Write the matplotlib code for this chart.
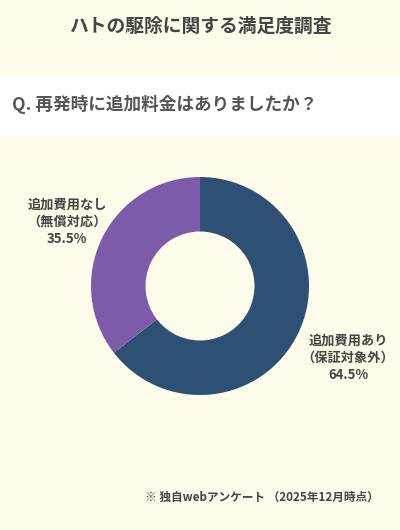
import matplotlib
matplotlib.use("Agg")
import matplotlib.pyplot as plt
from matplotlib.patches import Rectangle

plt.rcParams['font.family'] = ['Noto Sans CJK JP', 'DejaVu Sans']

# data
labels = ["追加費用あり\n（保証対象外）", "追加費用なし\n（無償対応）"]
values = [64.5, 35.5]
colors = ["#2d5074", "#7c5ba8"]

title = "ハトの駆除に関する満足度調査"
question = "Q. 再発時に追加料金はありましたか？"
footer = "※ 独自webアンケート （2025年12月時点）"

BG = "#fefbeb"
TXT = "#444444"

W, H = 400, 530
fig = plt.figure(figsize=(W / 100, H / 100), dpi=100)
fig.patch.set_facecolor(BG)

def fx(px):
    return px / W

def fy(py):
    return 1 - py / H

# white question band
fig.add_artist(Rectangle((0, fy(135)), 1, (135 - 76) / H,
                         transform=fig.transFigure, color="white", zorder=0))

fig.text(0.5, fy(26), title, ha="center", va="center",
         fontsize=13.5, fontweight="bold", color=TXT)
fig.text(fx(12), fy(104), question, ha="left", va="center",
         fontsize=12.7, fontweight="bold", color="#555555")

# donut
cx, cy, r = 200, 286, 109
ax = fig.add_axes([fx(cx - r), fy(cy + r), 2 * r / W, 2 * r / H])
ax.set_facecolor(BG)
ax.pie(values, colors=colors, startangle=90, counterclock=False,
       radius=1, wedgeprops=dict(width=0.5, edgecolor="none"))
ax.set_xlim(-1, 1)
ax.set_ylim(-1, 1)
ax.set_aspect("equal")
ax.axis("off")

# labels
fig.text(fx(348), fy(358), f"{labels[0]}\n{values[0]}%", ha="center", va="center",
         fontsize=9.5, fontweight="bold", color=TXT, linespacing=1.3)
fig.text(fx(67), fy(222), f"{labels[1]}\n{values[1]}%", ha="center", va="center",
         fontsize=9.5, fontweight="bold", color=TXT, linespacing=1.3)

fig.text(fx(145), fy(497), footer, ha="left", va="center",
         fontsize=8.4, fontweight="bold", color=TXT)

fig.savefig("out.png", dpi=100, facecolor=BG)
